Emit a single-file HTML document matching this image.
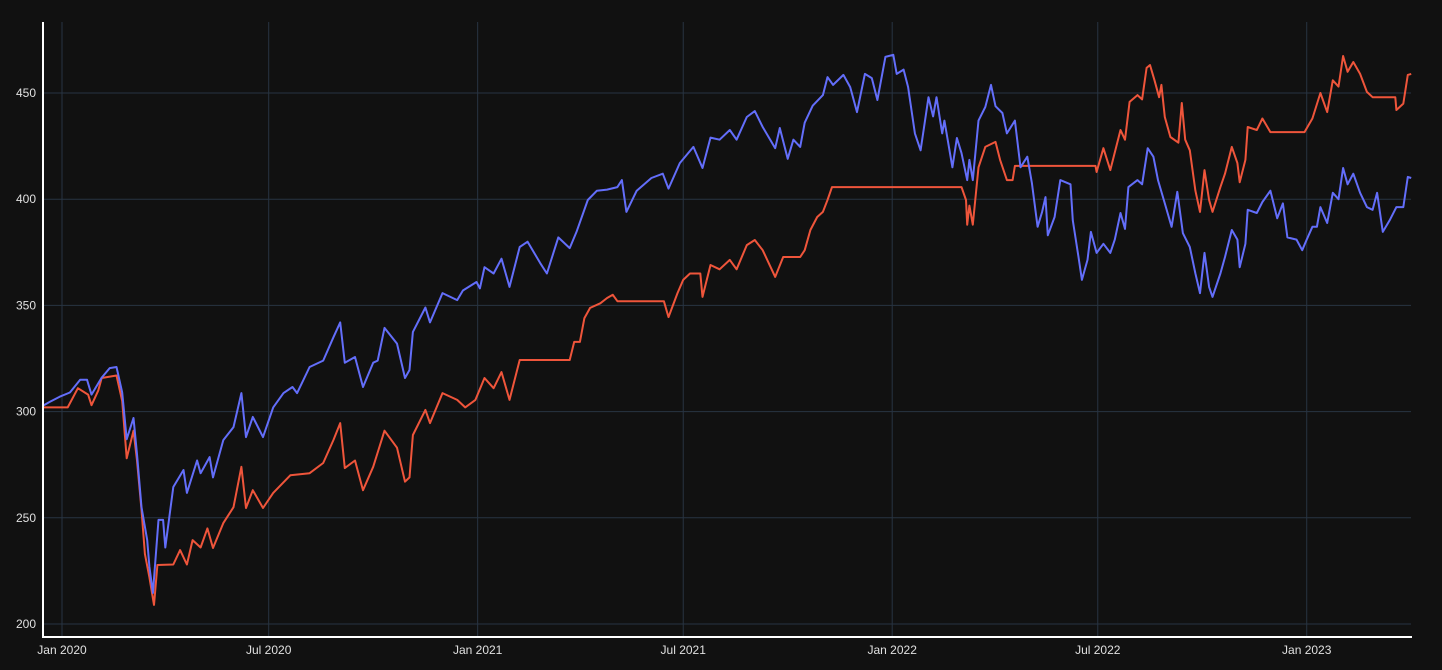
<!DOCTYPE html>
<html><head><meta charset="utf-8"><style>
html,body{margin:0;padding:0;background:#111111;}
svg{display:block;font-family:"Liberation Sans",sans-serif;}
</style></head><body>
<svg id="chart" width="1442" height="670" viewBox="0 0 1442 670" xmlns="http://www.w3.org/2000/svg">
<rect width="1442" height="670" fill="#111111"/>
<g id="grid"></g>
<g id="series"></g>
<g id="axes"></g>
</svg>
<script>
const yTicks = [200, 250, 300, 350, 400, 450];
const xTickDays = [0, 182, 366, 547, 731, 912, 1096];
const xTickLabels = ["Jan 2020","Jul 2020","Jan 2021","Jul 2021","Jan 2022","Jul 2022","Jan 2023"];

const blueDays = [-16,-11,-2,7,16,22,26,35,42,48,53,57,63,66,70,75,77,80,85,89,91,98,107,110,119,122,130,133,142,151,158,162,168,177,186,195,203,207,218,230,239,245,249,258,265,274,278,284,295,302,306,309,320,324,335,348,353,365,368,372,380,387,394,403,410,421,427,437,447,453,463,471,480,489,493,497,506,519,529,534,544,556,564,571,579,588,594,603,610,617,628,632,639,644,650,654,661,670,674,679,688,694,700,707,713,718,725,732,735,741,745,751,756,763,767,770,775,777,784,788,792,797,799,802,807,813,818,822,828,832,839,844,850,854,859,863,866,868,874,879,888,890,895,898,903,906,911,917,923,927,932,936,939,947,951,956,961,965,971,977,982,987,993,998,1002,1006,1010,1013,1020,1024,1030,1035,1037,1042,1044,1052,1057,1064,1070,1075,1079,1087,1092,1096,1101,1105,1108,1114,1119,1124,1128,1132,1137,1143,1149,1154,1158,1163,1169,1175,1181,1185,1188];
const blueValues = [303,304.5,307,309,315,315,308,316,320.5,321,309,287,297,280,255,239.5,227,214.6,249,249,236,264.5,272.5,261.7,277,271,278.6,269,286.6,292.7,308.7,288,297.5,288,302,308.7,311.6,308.7,321,324,335,342,323,325.7,311.6,323,324,339.4,332,315.8,319.6,337.5,349,342,355.8,352.5,357,361,358,368,365,372,358.7,377.5,380,370,365,382,377,384.6,399.6,404,404.5,405.7,409,394,404,410,412,405,417,424.6,414.7,429,428,432.6,428,438.7,441.5,434,424,433.5,419,428,424.6,436,444,449,457.5,453.8,458.5,452.8,441,459,457,446.7,467,468,459,461,452.8,431,423,448,439,448,431,437,415,428.8,421.7,409,418.5,409,437,443.4,453.8,443.8,440.6,431,437,415,420,407.6,387,394,401,383,391.6,409,407,390,372.8,362,371.4,384.6,374.7,379,374.7,381,393.5,386,405.7,409,407,424,420,409,398,387,403.5,384,377.5,365,355.8,374.7,358.7,354,365,372.8,385.5,381,368,379,395,393.5,398.7,404,391,398,382,381,376,381,387,387,396.3,388.8,403,400,414.7,407,412,403,396.3,395,403,384.6,390,396.3,396.3,410.5,410];

const orangeDays = [-16,5,14,23,26,32,35,48,53,57,63,66,70,73,77,81,84,98,104,110,115,122,128,133,142,151,158,162,168,177,186,201,218,230,239,245,249,258,265,274,284,295,302,306,309,320,324,335,348,355,364,372,380,387,394,403,447,451,456,460,465,474,480,485,489,530,534,542,547,553,562,564,571,579,588,594,603,610,617,628,635,650,654,659,665,670,674,678,792,796,797,799,802,807,813,822,826,832,837,839,910,911,917,923,932,936,940,947,951,955,958,962,966,968,971,976,983,986,989,993,998,1002,1006,1010,1013,1020,1024,1030,1035,1037,1042,1044,1052,1057,1064,1094,1101,1108,1114,1119,1124,1128,1132,1137,1143,1149,1154,1174,1175,1181,1185,1188];
const orangeValues = [302,302,311,308,303,310,315.8,317,305,278,291,277,253.7,233,222,209,227.8,228,234.8,228,239.5,236,245,235.8,247.5,255,274,254.6,263,254.6,261.7,270,271,275.8,286.6,294.6,273.4,277,263,274,291,283,267,269,289,300.8,294.6,308.7,305.5,302,305.5,315.8,311,318.6,305.5,324.3,324.3,332.8,332.8,344,348.8,351,353.5,355,352,352,344.5,355.8,362,365,365,354,369,367,371.4,367,378.4,380.8,376,363.4,372.8,372.8,376,385.5,391.6,394,399.6,405.7,405.7,399.6,388,397,388,415,424.6,427,418.5,409,409,415.7,415.7,412.8,424,413.7,432.6,428,445.8,449,447,461.8,463.2,456,448,453.8,438.7,429.3,426.6,445.3,428,423,404,394,413.7,399.6,394,405.7,412,424.6,417,408,418.5,434,432.6,438,431.6,431.6,438,450,441,456,453,467.4,460,464.6,459,450.5,448,448,442,445,458.5,459];

const NS = "http://www.w3.org/2000/svg";
const plotL = 44, plotR = 1411, plotB = 637;
function xScale(d){ return 62 + d * 1.1357; }
function yScale(v){ return 624 - (v - 200) * 2.124; }
function mk(tag, attrs, parent){ const e = document.createElementNS(NS, tag); for (const k in attrs) e.setAttribute(k, attrs[k]); parent.appendChild(e); return e; }

const grid = document.getElementById('grid');
const axes = document.getElementById('axes');
const series = document.getElementById('series');

yTicks.forEach(t => {
  const y = yScale(t);
  const l = mk('line', {x1: plotL, x2: plotR, y1: y, y2: y, stroke: '#283442', 'stroke-width': 1}, grid);
  
  
  const tx = mk('text', {x: 36, y: y + 4, 'text-anchor': 'end', 'font-size': 12, fill: '#e0e0e0'}, axes);
  tx.textContent = t;
  
  
});
xTickDays.forEach((d, i) => {
  const x = xScale(d);
  const l = mk('line', {x1: x, x2: x, y1: 22, y2: plotB, stroke: '#283442', 'stroke-width': 1}, grid);
  
  
  const tx = mk('text', {x: x, y: 654, 'text-anchor': 'middle', 'font-size': 12, fill: '#e0e0e0'}, axes);
  tx.textContent = xTickLabels[i];
  
  
});
const ya = mk('line', {x1: 43, x2: 43, y1: 22, y2: 638, stroke: '#ffffff', 'stroke-width': 2}, axes);


const xa = mk('line', {x1: 42, x2: 1412, y1: 637, y2: 637, stroke: '#ffffff', 'stroke-width': 2}, axes);



function drawLine(days, vals, color, name){
  const d = days.map((dd, i) => (i ? 'L' : 'M') + xScale(dd).toFixed(1) + ',' + yScale(vals[i]).toFixed(1)).join(' ');
  const p = mk('path', {d: d, fill: 'none', stroke: color, 'stroke-width': 2, 'stroke-linejoin': 'round'}, series);
  
  
}
drawLine(orangeDays, orangeValues, '#ef553b', 'orange-series-line');
drawLine(blueDays, blueValues, '#636efa', 'blue-series-line');
</script>
</body></html>
